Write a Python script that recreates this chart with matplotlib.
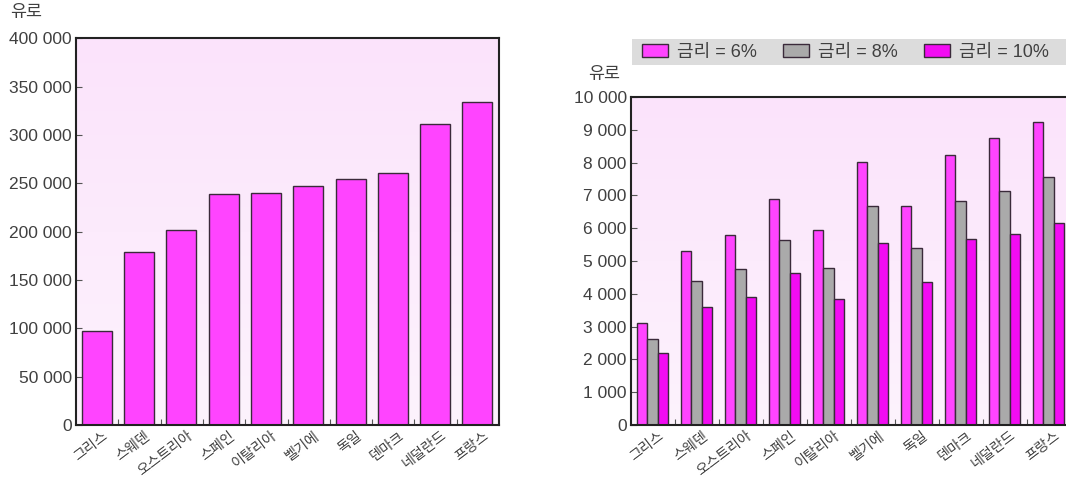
import matplotlib
matplotlib.use("Agg")
import matplotlib.pyplot as plt
import numpy as np
from matplotlib.ticker import FuncFormatter, FixedLocator
from matplotlib.colors import LinearSegmentedColormap

plt.rcParams['font.family'] = ['Liberation Sans', 'Noto Sans CJK KR', 'DejaVu Sans']

countries = ["그리스", "스웨덴", "오스트리아", "스페인", "이탈리아", "벨기에", "독일", "덴마크", "네덜란드", "프랑스"]
left_values = [97600, 179400, 201900, 239400, 240500, 247700, 255000, 260500, 311300, 334300]

series_labels = ["금리 = 6%", "금리 = 8%", "금리 = 10%"]
rate6 = [3120, 5320, 5790, 6880, 5960, 8030, 6670, 8220, 8740, 9250]
rate8 = [2610, 4400, 4750, 5650, 4780, 6690, 5400, 6830, 7130, 7560]
rate10 = [2190, 3610, 3890, 4640, 3830, 5560, 4360, 5660, 5830, 6160]

left_yticks = [0, 50000, 100000, 150000, 200000, 250000, 300000, 350000, 400000]
right_yticks = list(range(0, 10001, 1000))

W, H = 1066, 478
fig = plt.figure(figsize=(W / 100, H / 100), dpi=100)

TEXT = '#404040'
EDGE = '#3a2a3a'
C6 = '#ff44ff'
C8 = '#aaaaaa'
C10 = '#f20cf2'
FS = 12.5


def fmt(v, pos):
    return f"{int(v):,}".replace(",", " ")


def bg(ax, ymax):
    grad = np.linspace(0, 1, 256).reshape(-1, 1)
    cmap = LinearSegmentedColormap.from_list('bg', ['#fdf3fd', '#fbe3fb'])
    ax.imshow(grad, aspect='auto', cmap=cmap, extent=[0, 10, 0, ymax], origin='lower', zorder=0)


def style(ax, ymax, yticks):
    ax.set_xlim(0, 10)
    ax.set_ylim(0, ymax)
    ax.set_yticks(yticks)
    ax.yaxis.set_major_formatter(FuncFormatter(fmt))
    ax.tick_params(axis='y', direction='in', length=4, width=0.8, colors='#555555',
                   labelcolor=TEXT, labelsize=FS, pad=3)
    ax.set_xticks(np.arange(10) + 0.62)
    ax.set_xticklabels(countries, rotation=37, ha='right', rotation_mode='anchor',
                       fontsize=10.2, color=TEXT)
    ax.tick_params(axis='x', which='major', length=0, pad=2.5)
    ax.xaxis.set_minor_locator(FixedLocator(np.arange(1, 10)))
    ax.tick_params(axis='x', which='minor', direction='in', length=4, width=0.8, color='#555555')
    for s in ax.spines.values():
        s.set_color('#222222')
        s.set_linewidth(1.5)
        s.set_zorder(5)


# Left chart
axL = fig.add_axes([76 / W, 1 - 425 / H, (499 - 76) / W, (425 - 38.5) / H])
bg(axL, 400000)
axL.bar(np.arange(10) + 0.49, left_values, width=0.71, color=C6, edgecolor=EDGE,
        linewidth=1.0, zorder=2)
style(axL, 400000, left_yticks)
fig.text(10 / W, 1 - 13 / H, "유로", fontsize=12.5, color=TEXT, va='center', ha='left')

# Right chart
axR = fig.add_axes([631 / W, 1 - 425 / H, 440 / W, (425 - 97) / H])
bg(axR, 10000)
x = np.arange(10) + 0.49
bw = 0.235
b6 = axR.bar(x - bw, rate6, width=bw, color=C6, edgecolor=EDGE, linewidth=1.0, zorder=2, label=series_labels[0])
b8 = axR.bar(x, rate8, width=bw, color=C8, edgecolor=EDGE, linewidth=1.0, zorder=2, label=series_labels[1])
b10 = axR.bar(x + bw, rate10, width=bw, color=C10, edgecolor=EDGE, linewidth=1.0, zorder=2, label=series_labels[2])
style(axR, 10000, right_yticks)
fig.text(588 / W, 1 - 74 / H, "유로", fontsize=12.5, color=TEXT, va='center', ha='left')

# Legend band
axLeg = fig.add_axes([632 / W, 1 - 65 / H, (W - 632) / W, 26 / H])
axLeg.set_facecolor('#dcdcdc')
axLeg.set_xticks([])
axLeg.set_yticks([])
for s in axLeg.spines.values():
    s.set_visible(False)
leg = axLeg.legend(handles=[b6, b8, b10], loc='center left', bbox_to_anchor=(0.022, 0.5),
                   ncol=3, frameon=False, fontsize=13, handlelength=1.45, handleheight=0.7,
                   handletextpad=0.5, columnspacing=1.45, borderaxespad=0, borderpad=0)
for t in leg.get_texts():
    t.set_color(TEXT)

fig.savefig("out.png", dpi=100)
